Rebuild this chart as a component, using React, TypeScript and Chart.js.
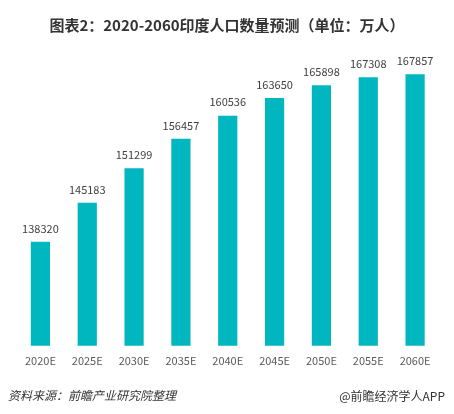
import React, { useEffect, useRef } from "react";
import { Chart, registerables } from "chart.js";

Chart.register(...registerables);

const titleText = "图表2：2020-2060印度人口数量预测（单位：万人）";
const sourceText = "资料来源：前瞻产业研究院整理";
const brandText = "@前瞻经济学人APP";
const categories = ["2020E", "2025E", "2030E", "2035E", "2040E", "2045E", "2050E", "2055E", "2060E"];
const population = [138320, 145183, 151299, 156457, 160536, 163650, 165898, 167308, 167857];
const yMin = 120000;
const yMax = 170000;

const FONT = '"Noto Sans CJK SC", "Noto Sans", sans-serif';

export default function App() {
  const ref = useRef<HTMLCanvasElement | null>(null);

  useEffect(() => {
    document.body.style.margin = "0";
    const canvas = ref.current;
    if (!canvas) return;

    const overlay = {
      id: "overlay",
      afterDatasetsDraw(chart: any) {
        const ctx = chart.ctx;
        const meta = chart.getDatasetMeta(0);
        ctx.save();
        ctx.font = `11px ${FONT}`;
        ctx.fillStyle = "#404040";
        ctx.textAlign = "center";
        ctx.textBaseline = "middle";
        meta.data.forEach((bar: any, i: number) => {
          ctx.fillText(String(population[i]), bar.x, bar.y - 13.5);
        });
        ctx.restore();
      },
      afterDraw(chart: any) {
        const ctx = chart.ctx;
        ctx.save();
        ctx.fillStyle = "#333333";
        ctx.font = `bold 15px ${FONT}`;
        ctx.textAlign = "center";
        ctx.textBaseline = "middle";
        ctx.fillText(titleText, 227, 25);
        ctx.font = `italic 12px ${FONT}`;
        ctx.textAlign = "left";
        ctx.fillText(sourceText, 8, 395);
        ctx.font = `12px ${FONT}`;
        ctx.textAlign = "right";
        ctx.fillText(brandText, 445, 396);
        ctx.restore();
      },
    };

    const chart = new Chart(canvas, {
      type: "bar",
      data: {
        labels: categories,
        datasets: [
          {
            data: population,
            backgroundColor: "#00B7C0",
            barPercentage: 0.41,
            categoryPercentage: 1,
          },
        ],
      },
      options: {
        animation: false,
        responsive: false,
        maintainAspectRatio: false,
        layout: { padding: { left: 17, right: 15.5, top: 62, bottom: 47 } },
        plugins: {
          legend: { display: false },
          tooltip: { enabled: false },
          title: { display: false },
        },
        scales: {
          x: {
            grid: { display: false },
            border: { display: false },
            ticks: {
              color: "#595959",
              font: { family: FONT, size: 11 },
              padding: 0,
              maxRotation: 0,
            },
          },
          y: {
            display: false,
            min: yMin,
            max: yMax,
          },
        },
      },
      plugins: [overlay],
    });

    return () => chart.destroy();
  }, []);

  return (
    <div style={{ position: "absolute", left: 0, top: 0, width: 454, height: 414, background: "#fff" }}>
      <canvas ref={ref} width={454} height={414} style={{ display: "block", width: 454, height: 414 }} />
    </div>
  );
}
